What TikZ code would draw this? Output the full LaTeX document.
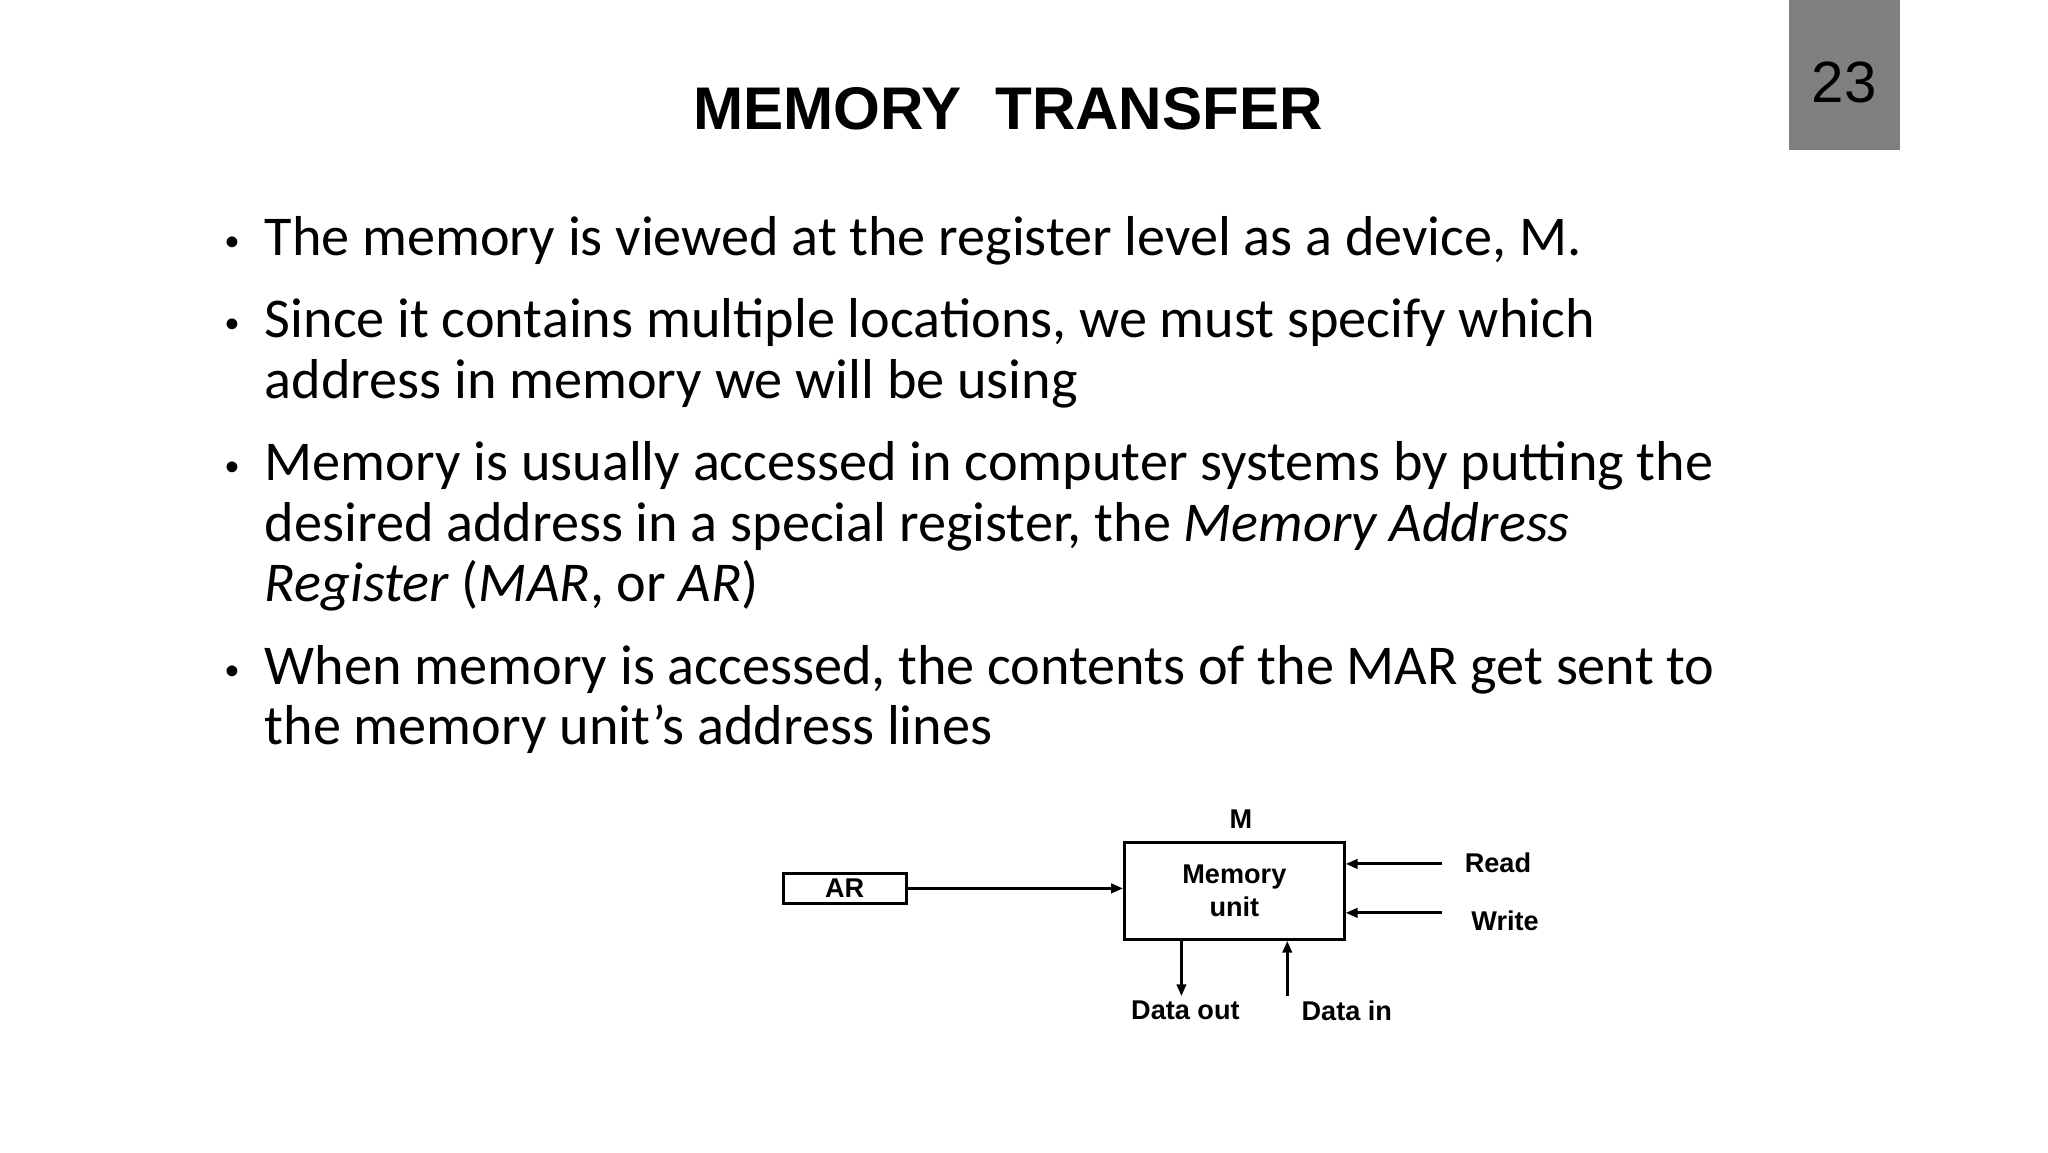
\documentclass[tikz,border=0pt]{standalone}
\usepackage{fontspec}
\setmainfont{Carlito}
\newfontfamily\arial{Liberation Sans}
\usetikzlibrary{arrows.meta}
\begin{document}
\begin{tikzpicture}[x=1pt,y=-1pt,
 body/.style={anchor=base west,font=\fontsize{42.5}{46}\selectfont,inner sep=0},
 blt/.style={anchor=base west,font=\arial\fontsize{30}{46}\selectfont,inner sep=0},
 lab/.style={font=\arial\bfseries\fontsize{20.5}{22}\selectfont,inner sep=0},
 arr/.style={line width=2.2pt,-{Triangle[length=9pt,width=7pt]}}]
\useasboundingbox[fill=white] (0,0) rectangle (1548,871);
\fill[black!50] (1352,0) rectangle (1436,113);
\node[font=\arial\fontsize{44}{46}\selectfont] (num) at (1394,62) {23};
\node[font=\arial\bfseries\fontsize{45.5}{50}\selectfont] (title) at (762,82) {MEMORY\ \ TRANSFER};
\node[blt] (b1) at (170,193) {•};
\node[body] (t1) at (200,193) {The memory is viewed at the register level as a device, M.};
\node[blt] (b2) at (170,255) {•};
\node[body] (t2) at (200,255) {Since it contains multiple locations, we must specify which};
\node[body] (t2b) at (200,301) {address in memory we will be using};
\node[blt] (b3) at (170,363) {•};
\node[body] (t3) at (200,363) {Memory is usually accessed in computer systems by putting the};
\node[body] (t3b) at (200,409) {desired address in a special register, the \textit{Memory Address}};
\node[body] (t3c) at (200,455) {\textit{Register} (\textit{MAR}, or \textit{AR})};
\node[blt] (b4) at (170,517) {•};
\node[body] (t4) at (200,517) {When memory is accessed, the contents of the MAR get sent to};
\node[body] (t4b) at (200,563) {the memory unit’s address lines};
% diagram
\node[draw,line width=2.2pt,minimum width=93pt,minimum height=23pt,lab] (ar) at (638.5,671.5) {AR};
\node[draw,line width=2.2pt,minimum width=166pt,minimum height=73pt,lab,align=center] (mem) at (933,673.5) {Memory\\[3pt]unit};
\node[lab] (m) at (938,619) {M};
\node[lab,anchor=west] (read) at (1107,652) {Read};
\node[lab,anchor=west] (write) at (1112,696) {Write};
\node[lab] (dout) at (896,764) {Data out};
\node[lab] (din) at (1018,764) {Data in};
\coordinate (rs) at (1090,653);
\coordinate (ws) at (1090,690);
\coordinate (doe) at (893,753);
\coordinate (dis) at (973,753);
\draw[arr] (ar.east) -- (mem.west |- ar.east);
\draw[arr] (rs) -- (mem.east |- rs);
\draw[arr] (ws) -- (mem.east |- ws);
\draw[arr] (mem.south -| doe) -- (doe);
\draw[arr] (dis) -- (mem.south -| dis);
\end{tikzpicture}
\end{document}
